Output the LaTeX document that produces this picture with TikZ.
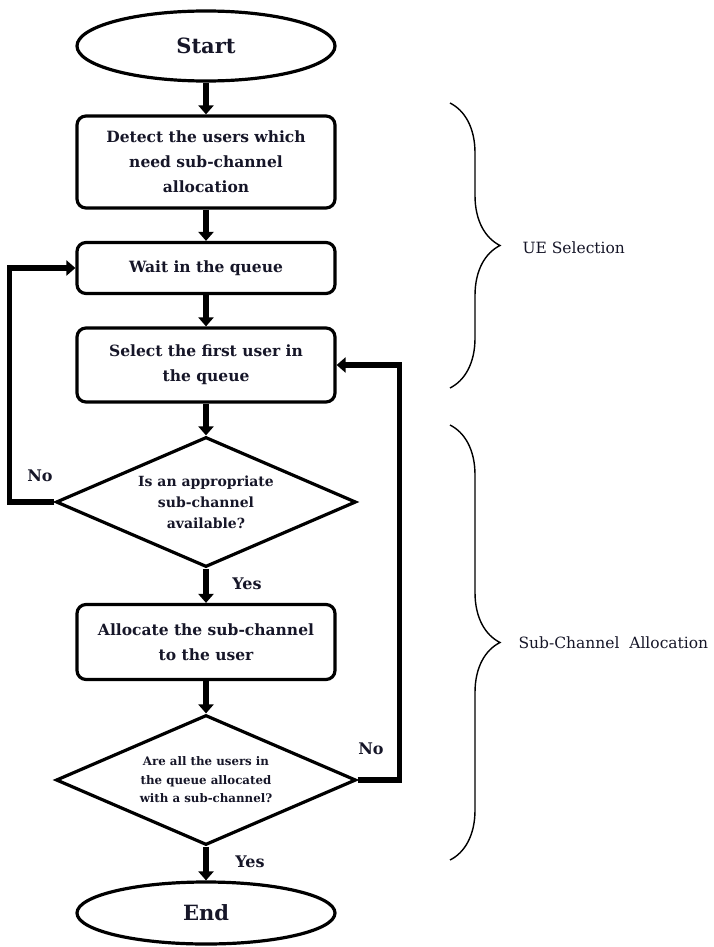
\documentclass[tikz,border=0pt]{standalone}
\usepackage{fontspec}
\setmainfont{DejaVu Serif}
\usetikzlibrary{shapes.geometric, arrows.meta, positioning, decorations.pathreplacing}
\definecolor{inkblue}{RGB}{22,22,40}

\begin{document}
\begin{tikzpicture}[
  x=1pt, y=-1pt,
  terminal/.style={ellipse, draw=black, line width=3.2pt, minimum width=258pt,
    minimum height=70pt, inner sep=0pt, text=inkblue, font=\fontsize{21}{24}\selectfont\bfseries},
  process/.style={rectangle, rounded corners=9pt, draw=black, line width=3.2pt,
    minimum width=258pt, align=center, inner sep=0pt, text=inkblue,
    font=\fontsize{15.5}{25}\selectfont\bfseries},
  decision/.style={diamond, aspect=2.3, draw=black, line width=3.2pt, minimum width=300pt,
    minimum height=130pt, inner sep=0pt, align=center, text=inkblue},
  arrow/.style={-{Triangle[width=15pt,length=9pt]}, line width=6pt, black},
  loopline/.style={-{Triangle[width=15pt,length=9pt]}, line width=5.5pt, black},
  answer/.style={font=\fontsize{16}{18}\selectfont\bfseries, text=inkblue},
  bracelabel/.style={font=\fontsize{15.5}{18}\selectfont, text=inkblue, anchor=west},
  bracket/.style={decorate, decoration={brace, amplitude=50pt}, line width=1.4pt}
]
\useasboundingbox (0,0) rectangle (713,947);

% Main column
\node[terminal] (start) at (206,46) {Start};
\node[process, minimum height=92pt] (detect) at (206,162)
  {Detect the users which\\need sub-channel\\allocation};
\node[process, minimum height=51pt] (wait) at (206,268) {Wait in the queue};
\node[process, minimum height=74pt] (select) at (206,365)
  {Select the first user in\\the queue};
\node[decision, font=\fontsize{14}{21}\selectfont\bfseries] (avail) at (206,502)
  {Is an appropriate\\sub-channel\\available?};
\node[process, minimum height=75pt] (alloc) at (206,642)
  {Allocate the sub-channel\\to the user};
\node[decision, font=\fontsize{11.8}{18.5}\selectfont\bfseries] (alldone) at (206,780)
  {Are all the users in\\the queue allocated\\with a sub-channel?};
\node[terminal, minimum height=62pt] (stop) at (206,913) {End};

% Arrows down the column
\foreach \i/\j in {start/detect, detect/wait, wait/select, select/avail,
  avail/alloc, alloc/alldone, alldone/stop} {
  \draw[arrow] (\i) -- (\j);
}

% Loops back
\draw[loopline] (avail.west) -- ++(-45,0) |- (wait.west);
\draw[loopline] (alldone.east) -- ++(42,0) |- (select.east);

% Yes / No labels
\node[answer] (no1) at (40,476) {No};
\node[answer] (yes1) at (247,584) {Yes};
\node[answer] (no2) at (371,749) {No};
\node[answer] (yes2) at (250,862) {Yes};

% Braces on the right
\coordinate (ueTop) at (450,103);
\coordinate (ueBot) at (450,388);
\coordinate (scTop) at (450,425);
\coordinate (scBot) at (450,860);
\draw[bracket] (ueTop) -- (ueBot);
\draw[bracket] (scTop) -- (scBot);
\node[bracelabel] (ue) at (519,248) {UE Selection};
\node[bracelabel] (sc) at (515,643) {Sub-Channel~~Allocation};

\end{tikzpicture}
\end{document}
